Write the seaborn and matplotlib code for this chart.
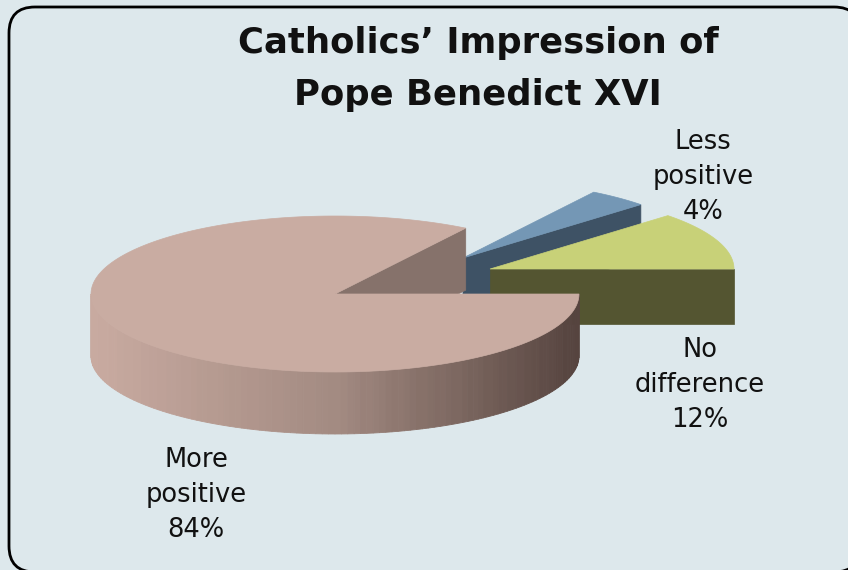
import numpy as np
import matplotlib.pyplot as plt
import seaborn as sns
from matplotlib.patches import Polygon, FancyBboxPatch

# data (counter-clockwise from the 3 o'clock position)
categories = ["No\ndifference", "Less\npositive", "More\npositive"]
shares = [12, 4, 84]

title = "Catholics\u2019 Impression of\nPope Benedict XVI"

# style
top_colors = ["#c8d178", "#7497b5", "#c9aca2"]
face_colors = ["#545531", "#3e5265", "#86726b"]
wall_palette = sns.blend_palette(["#c8aaa0", "#a28a81", "#56443f"], 60)
bg = "#dde8ec"

# layout (pixels)
cx, cy = 335, 294
rx, ry = 244, 78
depths = [55, 55, 62]
explode_dx = [155, 128, 0]
explode_dy = [-25, -36, 0]
label_xy = [(700, 385), (703, 177), (196, 495)]

sns.set_theme(style="white")
plt.rcParams['font.family'] = ['DejaVu Sans']

fig = plt.figure(figsize=(8.48, 5.70), dpi=100, facecolor=bg)
ax = fig.add_axes([0, 0, 1, 1])
ax.set_xlim(0, 848)
ax.set_ylim(570, 0)
ax.axis("off")
ax.set_facecolor(bg)

frame = FancyBboxPatch((9, 7), 851, 565, boxstyle="round,pad=0,rounding_size=26",
                       facecolor=bg, edgecolor="black", linewidth=2, zorder=0)
ax.add_patch(frame)


def pt(t, ox, oy):
    return ox + rx * np.cos(t), oy - ry * np.sin(t)


bounds = np.deg2rad(np.concatenate([[0], np.cumsum(shares)]) * 3.6)

# draw back pieces first: Less positive, No difference, then More positive
for i in [1, 0, 2]:
    t0, t1 = bounds[i], bounds[i + 1]
    ox, oy = cx + explode_dx[i], cy + explode_dy[i]
    depth = depths[i]
    z = 10 + 5 * (i == 0) + 10 * (i == 2)

    # radial cut faces that turn towards the viewer
    for t, sgn in [(t0, -1), (t1, 1)]:
        if np.sin(t + sgn * np.pi / 2) < 0:
            px, py = pt(t, ox, oy)
            ax.add_patch(Polygon([(ox, oy), (px, py), (px, py + depth), (ox, oy + depth)],
                                 closed=True, facecolor=face_colors[i],
                                 edgecolor=face_colors[i], linewidth=0.5, zorder=z))

    # outer front wall (angles between pi and 2pi)
    a0, a1 = max(t0, np.pi), min(t1, 2 * np.pi)
    if a1 > a0:
        ts = np.linspace(a0, a1, 121)
        for k in range(len(ts) - 1):
            xa, ya = pt(ts[k], ox, oy)
            xb, yb = pt(ts[k + 1], ox, oy)
            frac = (xa - (ox - rx)) / (2 * rx)
            col = wall_palette[min(int(frac * len(wall_palette)), len(wall_palette) - 1)]
            ax.add_patch(Polygon([(xa, ya), (xb, yb), (xb, yb + depth), (xa, ya + depth)],
                                 closed=True, facecolor=col, edgecolor=col,
                                 linewidth=0.6, zorder=z + 1))

    # top surface
    ts = np.linspace(t0, t1, 200)
    xs, ys = pt(ts, ox, oy)
    verts = [(ox, oy)] + list(zip(xs, ys))
    ax.add_patch(Polygon(verts, closed=True, facecolor=top_colors[i],
                         edgecolor=top_colors[i], linewidth=0.5, zorder=z + 2))

# labels
for (lx, ly), name, v in zip(label_xy, categories, shares):
    ax.text(lx, ly, f"{name}\n{v}%", ha="center", va="center", fontsize=18.5,
            linespacing=1.47, color="#111111", zorder=30)

ax.text(478, 69, title, ha="center", va="center", fontsize=25.5, fontweight="bold",
        linespacing=1.64, color="#111111", zorder=30)

fig.savefig("out.png", dpi=100, facecolor=bg)
